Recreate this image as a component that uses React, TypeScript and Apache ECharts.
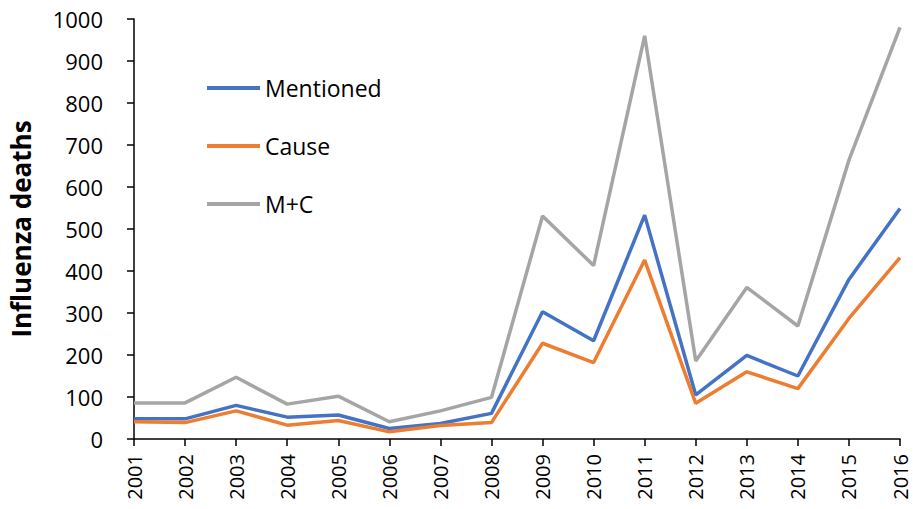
import React, { useEffect, useRef } from "react";
import * as echarts from "echarts";

const years = ["2001","2002","2003","2004","2005","2006","2007","2008","2009","2010","2011","2012","2013","2014","2015","2016"];
const mentioned = [48, 48, 80, 52, 57, 25, 37, 61, 303, 234, 533, 105, 199, 150, 380, 549];
const cause = [41, 39, 67, 33, 44, 17, 32, 39, 228, 182, 426, 85, 160, 120, 287, 432];
const mPlusC = [86, 86, 147, 83, 102, 41, 67, 99, 531, 413, 960, 186, 361, 269, 664, 980];

const FONT = "'Open Sans', 'Liberation Sans', sans-serif";

export default function App() {
  const ref = useRef<HTMLDivElement>(null);
  useEffect(() => {
    const chart = echarts.init(ref.current!, null, { renderer: "svg" });
    const mk = (name: string, data: number[], color: string) => ({
      name,
      type: "line",
      data,
      symbol: "none",
      lineStyle: { color, width: 3.5 },
      itemStyle: { color },
    });
    chart.setOption({
      animation: false,
      backgroundColor: "#fff",
      grid: { left: 128, right: 13, top: 19, bottom: 70 },
      legend: {
        orient: "vertical",
        left: 207,
        top: 76,
        padding: 0,
        icon: "rect",
        itemWidth: 53,
        itemHeight: 4,
        itemGap: 34,
        textStyle: { fontFamily: FONT, fontSize: 23, color: "#000", lineHeight: 24 },
        data: ["Mentioned", "Cause", "M+C"],
      },
      xAxis: {
        type: "category",
        data: years,
        boundaryGap: false,
        axisLine: { lineStyle: { color: "#000", width: 1.5 } },
        axisTick: { show: true, length: 7, lineStyle: { color: "#000", width: 1.5 }, alignWithLabel: true },
        axisLabel: { rotate: 90, fontFamily: FONT, fontSize: 20, color: "#000", margin: 15, interval: 0 },
      },
      yAxis: {
        type: "value",
        min: 0,
        max: 1000,
        interval: 100,
        name: "Influenza deaths",
        nameLocation: "middle",
        nameGap: 100,
        nameTextStyle: { fontFamily: FONT, fontSize: 26, fontWeight: "bold", color: "#000" },
        splitLine: { show: false },
        axisLine: { show: true, lineStyle: { color: "#000", width: 1.5 } },
        axisTick: { show: true, length: 7, lineStyle: { color: "#000", width: 1.5 } },
        axisLabel: { fontFamily: FONT, fontSize: 22, color: "#000", margin: 31, formatter: (v: number) => String(v) },
      },
      series: [
        mk("Mentioned", mentioned, "#4472C4"),
        mk("Cause", cause, "#ED7D31"),
        mk("M+C", mPlusC, "#A5A5A5"),
      ],
    });
    return () => chart.dispose();
  }, []);
  return <div ref={ref} style={{ position: "absolute", left: 0, top: 0, width: 913, height: 509 }} />;
}
